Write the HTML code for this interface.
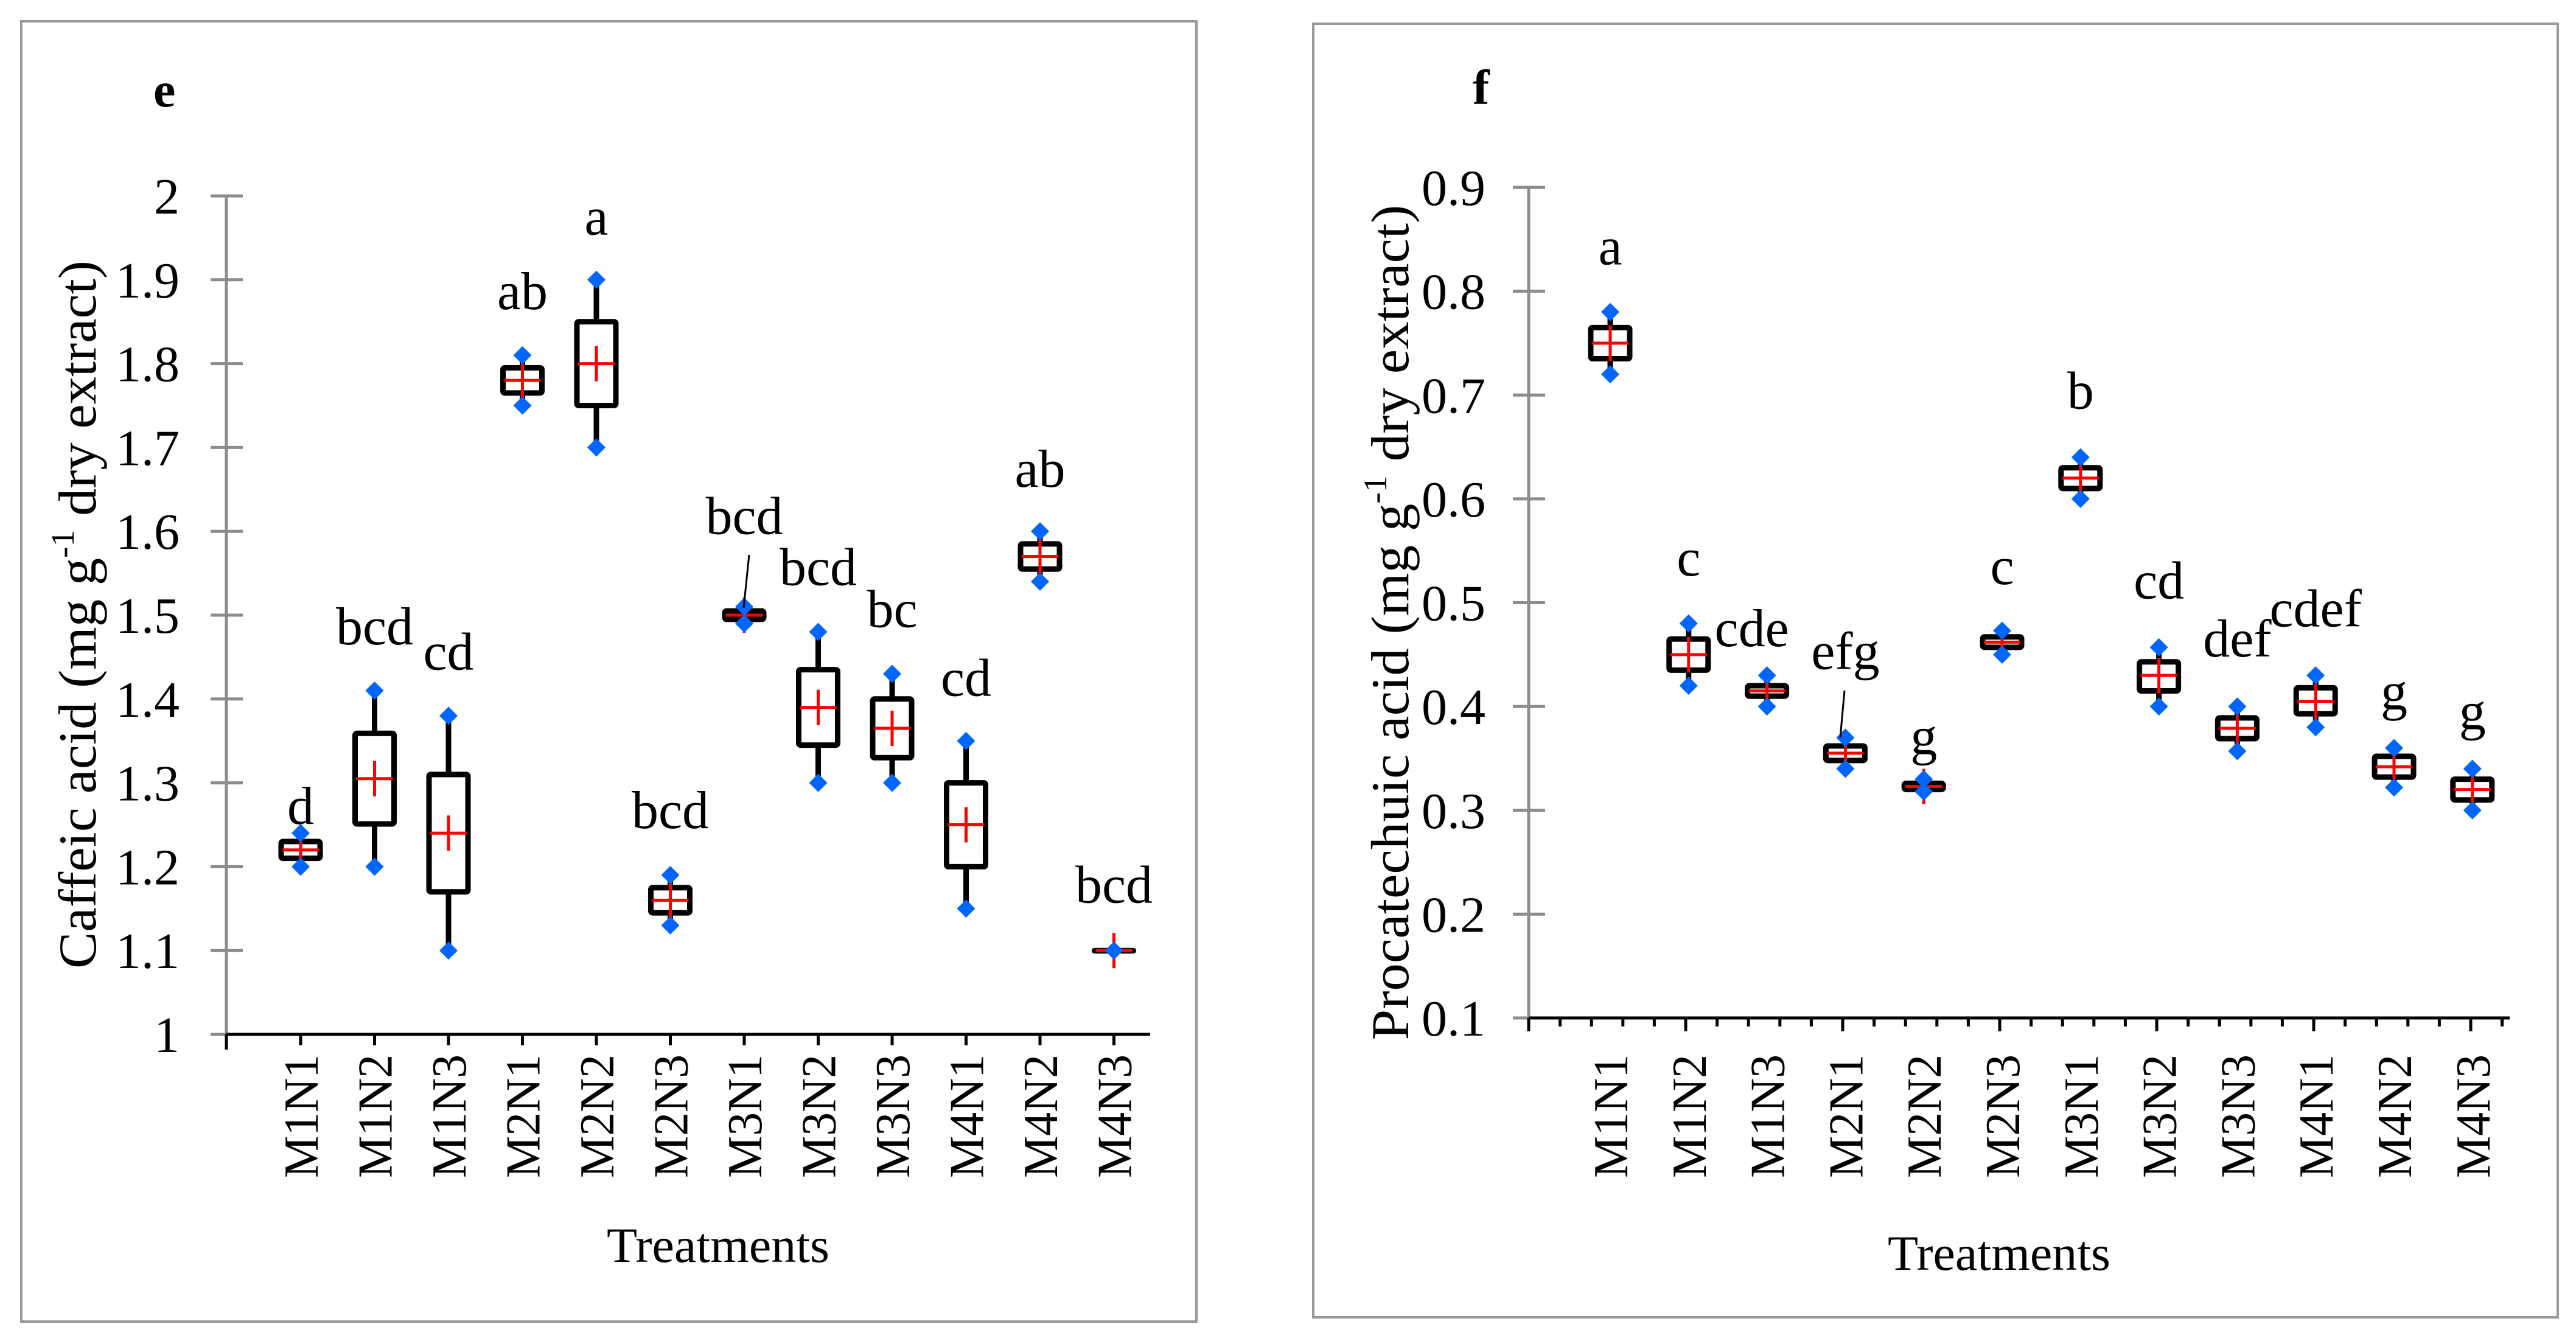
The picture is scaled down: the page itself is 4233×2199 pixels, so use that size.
<!DOCTYPE html>
<html><head><meta charset="utf-8">
<style>
html,body{margin:0;padding:0;background:#fff;}
svg{display:block;font-family:"Liberation Serif",serif;}
</style></head>
<body>
<svg id="svg" width="4233" height="2199" viewBox="0 0 4233 2199" xmlns="http://www.w3.org/2000/svg">
<rect x="0" y="0" width="4233" height="2199" fill="#fff"/>
<rect x="35" y="35" width="1931" height="2137" fill="none" stroke="#999" stroke-width="4"/>
<rect x="2158" y="39" width="2045" height="2126" fill="none" stroke="#999" stroke-width="4"/>
<text x="252" y="175" font-size="82" font-weight="bold">e</text>
<text x="2420" y="171" font-size="82" font-weight="bold">f</text>
<text transform="translate(157,1010) rotate(-90)" text-anchor="middle" font-size="88" textLength="1164" lengthAdjust="spacingAndGlyphs">Caffeic acid (mg g<tspan font-size="54" dy="-36">-1</tspan><tspan dy="36"> dry extract)</tspan></text>
<text transform="translate(2314,1023) rotate(-90)" text-anchor="middle" font-size="88" textLength="1373" lengthAdjust="spacingAndGlyphs">Procatechuic acid (mg g<tspan font-size="54" dy="-36">-1</tspan><tspan dy="36"> dry extract)</tspan></text>
<text x="1180" y="2074" text-anchor="middle" font-size="82">Treatments</text>
<text x="3285" y="2087" text-anchor="middle" font-size="82">Treatments</text>
<g id="chartE"></g>
<g id="chartF"></g>
</svg>
<script>
// ---- Chart e (Caffeic acid) data ----
const categoriesE = ["M1N1","M1N2","M1N3","M2N1","M2N2","M2N3","M3N1","M3N2","M3N3","M4N1","M4N2","M4N3"];
const minE    = [1.20,1.20,1.10,1.75,1.70,1.13,1.49,1.30,1.30,1.15,1.54,1.10];
const q1E     = [1.21,1.251,1.17,1.765,1.75,1.145,1.495,1.345,1.33,1.20,1.555,1.10];
const medianE = [1.22,1.305,1.24,1.78,1.80,1.16,1.50,1.39,1.365,1.25,1.57,1.10];
const q3E     = [1.23,1.359,1.31,1.795,1.85,1.175,1.505,1.435,1.40,1.30,1.585,1.10];
const maxE    = [1.24,1.41,1.38,1.81,1.90,1.19,1.51,1.48,1.43,1.35,1.60,1.10];
const meanE   = [1.22,1.305,1.24,1.78,1.80,1.16,1.50,1.39,1.365,1.25,1.57,1.10];
const lettersE = ["d","bcd","cd","ab","a","bcd","bcd","bcd","bc","cd","ab","bcd"];
const letterYE = [1.251,1.465,1.435,1.865,1.954,1.246,1.597,1.536,1.486,1.404,1.653,1.157];
const ticksE = [1,1.1,1.2,1.3,1.4,1.5,1.6,1.7,1.8,1.9,2];
const tickLabelsE = ["1","1.1","1.2","1.3","1.4","1.5","1.6","1.7","1.8","1.9","2"];

// ---- Chart f (Procatechuic acid) data ----
const categoriesF = ["M1N1","M1N2","M1N3","M2N1","M2N2","M2N3","M3N1","M3N2","M3N3","M4N1","M4N2","M4N3"];
const minF    = [0.72,0.42,0.40,0.34,0.318,0.45,0.60,0.40,0.357,0.38,0.322,0.30];
const q1F     = [0.735,0.435,0.41,0.348,0.32,0.457,0.61,0.415,0.369,0.393,0.332,0.31];
const medianF = [0.75,0.45,0.415,0.355,0.323,0.462,0.62,0.43,0.379,0.405,0.342,0.32];
const q3F     = [0.765,0.465,0.42,0.362,0.326,0.467,0.63,0.443,0.389,0.418,0.352,0.33];
const maxF    = [0.78,0.48,0.43,0.37,0.33,0.473,0.64,0.457,0.40,0.43,0.36,0.34];
const meanF   = [0.75,0.45,0.415,0.355,0.323,0.462,0.62,0.43,0.379,0.405,0.342,0.32];
const lettersF = ["a","c","cde","efg","g","c","b","cd","def","cdef","g","g"];
const letterYF = [0.826,0.526,0.458,0.436,0.354,0.518,0.687,0.504,0.448,0.477,0.397,0.378];
const ticksF = [0.1,0.2,0.3,0.4,0.5,0.6,0.7,0.8,0.9];
const tickLabelsF = ["0.1","0.2","0.3","0.4","0.5","0.6","0.7","0.8","0.9"];

const NS = "http://www.w3.org/2000/svg";
function mk(parent, tag, attrs) {
  const el = document.createElementNS(NS, tag);
  for (const k in attrs) el.setAttribute(k, attrs[k]);
  parent.appendChild(el);
  return el;
}

function drawChart(g, cfg, d) {
  const y = v => cfg.y0 + (v - cfg.v0) * (cfg.y1 - cfg.y0) / (cfg.v1 - cfg.v0);
  const x = i => cfg.c0 + i * cfg.step;
  let el = mk(g, "line", {x1: cfg.ax, y1: y(cfg.v1), x2: cfg.ax, y2: y(cfg.v0), stroke: "#8c8c8c", "stroke-width": 5});
  
  
  d.ticks.forEach((t, i) => {
    const tl = mk(g, "line", {x1: cfg.ax - 26, y1: y(t), x2: (i === 0 ? cfg.ax : cfg.ax + 27), y2: y(t), stroke: "#8c8c8c", "stroke-width": 5});
    
    
    const tx = mk(g, "text", {x: cfg.labelRight, y: y(t) + 29, "text-anchor": "end", "font-size": 84});
    tx.textContent = d.tickLabels[i];
    
    
  });
  el = mk(g, "line", {x1: cfg.ax, y1: cfg.y0, x2: cfg.axEnd, y2: cfg.y0, stroke: "#000", "stroke-width": 5});
  
  
  cfg.xTicks.forEach(t => {
    const xt = mk(g, "line", {x1: t.x, y1: cfg.y0, x2: t.x, y2: cfg.y0 + t.len, stroke: "#000", "stroke-width": 5});
    
    
  });
  d.cats.forEach((c, i) => {
    const cx = x(i);
    const lab = mk(g, "text", {transform: `translate(${cx + 28},1936) rotate(-90)`, "font-size": 80, textLength: 203, lengthAdjust: "spacingAndGlyphs"});
    lab.textContent = c;
    
    
    const grp = mk(g, "g", {});
    
    
    const w = mk(grp, "line", {x1: cx, y1: y(d.min[i]), x2: cx, y2: y(d.max[i]), stroke: "#000", "stroke-width": 9});
    
    
    const top = y(d.q3[i]), bot = y(d.q1[i]);
    const b = mk(grp, "rect", {x: cx - 32, y: top, width: 64, height: Math.max(bot - top, 0.5), rx: 3, fill: "#fff", stroke: "#000", "stroke-width": 9});
    
    
    const md = mk(grp, "line", {x1: cx - 30, y1: y(d.median[i]), x2: cx + 30, y2: y(d.median[i]), stroke: "#ff0000", "stroke-width": 5});
    
    
    const mn = mk(grp, "line", {x1: cx, y1: y(d.mean[i]) - 29, x2: cx, y2: y(d.mean[i]) + 29, stroke: "#ff0000", "stroke-width": 5});
    
    
    [d.min[i], d.max[i]].forEach((v, k) => {
      const py = y(v);
      const p = mk(grp, "polygon", {points: `${cx},${py - 15} ${cx + 15},${py} ${cx},${py + 15} ${cx - 15},${py}`, fill: "#0066ff"});
      
      
    });
    const lt = mk(g, "text", {x: cx + (cfg.letterDx[i] || 0), y: y(d.letterY[i]), "text-anchor": "middle", "font-size": 88});
    lt.textContent = d.letters[i];
    
    
  });
  (cfg.leaders || []).forEach(l => {
    const ln = mk(g, "line", {x1: l[0], y1: l[1], x2: l[2], y2: l[3], stroke: "#000", "stroke-width": 3});
    
    
  });
}

const ticksXE = [{x: 372, len: 25}];
for (let i = 0; i < 12; i++) ticksXE.push({x: 494 + i * 121.5, len: 18});
drawChart(document.getElementById("chartE"), {
  v0: 1, v1: 2, y0: 1700, y1: 322, ax: 372, axEnd: 1890, c0: 494, step: 121.5,
  labelRight: 295, xTicks: ticksXE, letterDx: {}, leaders: [[1231, 912, 1222, 999]]
}, {cats: categoriesE, min: minE, q1: q1E, median: medianE, q3: q3E, max: maxE, mean: meanE,
    letters: lettersE, letterY: letterYE, ticks: ticksE, tickLabels: tickLabelsE});

const ticksXF = [];
for (let i = 0; i <= 31; i++) ticksXF.push({x: 2512 + i * 51.6, len: (i % 5 === 0) ? 22 : 14});
drawChart(document.getElementById("chartF"), {
  v0: 0.1, v1: 0.9, y0: 1673, y1: 308, ax: 2512, axEnd: 4124, c0: 2646, step: 128.8,
  labelRight: 2441, xTicks: ticksXF, letterDx: {2: -25}, leaders: [[3031, 1135, 3024, 1212]]
}, {cats: categoriesF, min: minF, q1: q1F, median: medianF, q3: q3F, max: maxF, mean: meanF,
    letters: lettersF, letterY: letterYF, ticks: ticksF, tickLabels: tickLabelsF});
</script>
</body></html>
